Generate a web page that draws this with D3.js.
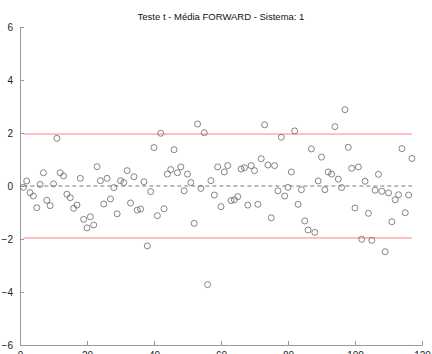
<!DOCTYPE html>
<html>
<head>
<meta charset="utf-8">
<script src="https://cdn.jsdelivr.net/npm/d3@7"></script>
<style>
  body { margin: 0; background: #fff; }
  svg { font-family: "Liberation Sans", Arial, sans-serif; }
</style>
</head>
<body>
<svg id="chart" width="432" height="354"></svg>
<script>
// t statistic for each sample, index 1..117
const tValues = [
  -0.05, 0.19, -0.25, -0.38, -0.82, 0.06, 0.50, -0.54, -0.74, 0.08,
  1.80, 0.50, 0.38, -0.31, -0.44, -0.84, -0.72, 0.29, -1.26, -1.58,
  -1.16, -1.47, 0.73, 0.20, -0.68, 0.29, -0.49, -0.06, -1.05, 0.20,
  0.13, 0.58, -0.64, 0.35, -0.91, -0.87, 0.16, -2.26, -0.21, 1.45,
  -1.12, 1.99, -0.86, 0.45, 0.62, 1.37, 0.50, 0.72, -0.18, 0.45,
  0.13, -1.41, 2.34, -0.09, 2.01, -3.72, 0.20, -0.34, 0.72, -0.78,
  0.53, 0.77, -0.55, -0.52, -0.40, 0.64, 0.69, -0.72, 0.77, 0.58,
  -0.69, 1.03, 2.31, 0.79, -1.20, 0.77, -0.18, 1.84, -0.38, -0.05,
  0.53, 2.08, -0.69, -0.14, -1.32, -1.66, 1.40, -1.75, 0.19, 1.09,
  -0.14, 0.53, 0.45, 2.24, 0.26, -0.06, 2.88, 1.46, 0.67, -0.83,
  0.72, -2.01, 0.18, -1.03, -2.05, -0.16, 0.44, -0.20, -2.48, -0.26,
  -1.35, -0.52, -0.33, 1.41, -1.01, -0.34, 1.04
];
const criticalValue = 1.96;
const xTicks = [0, 20, 40, 60, 80, 100, 120];
const yTicks = [-6, -4, -2, 0, 2, 4, 6];
const title = "Teste t - Média FORWARD - Sistema: 1";

const svg = d3.select("#chart");
const plotLeft = 20, plotRight = 422, plotTop = 27, plotBottom = 345;

const xScale = d3.scaleLinear().domain([0, 120]).range([plotLeft, plotRight]);
const yScale = d3.scaleLinear().domain([-6, 6]).range([plotBottom, plotTop]);

const points = tValues.map((v, i) => [i + 1, v]);
const xFirst = 1, xLast = tValues.length;

// title
svg.append("text")
  .attr("x", (plotLeft + plotRight) / 2)
  .attr("y", 20)
  .attr("text-anchor", "middle")
  .attr("font-size", 9.5)
  .attr("fill", "#111")
  .text(title);

// axes (MATLAB style: ticks inward)
svg.append("g")
  .attr("transform", `translate(0,${plotBottom})`)
  .call(d3.axisBottom(xScale).tickValues(xTicks).tickSizeInner(-4).tickSizeOuter(0).tickPadding(7))
  .call((g) => g.select(".domain").attr("stroke", "#999"))
  .call((g) => g.selectAll(".tick line").attr("stroke", "#999"))
  .call((g) => g.selectAll(".tick text").attr("font-size", 10).attr("fill", "#222").attr("font-family", "Liberation Sans, Arial"));

svg.append("g")
  .attr("transform", `translate(${plotLeft},0)`)
  .call(d3.axisLeft(yScale).tickValues(yTicks).tickSizeInner(-4).tickSizeOuter(0).tickPadding(7))
  .call((g) => g.select(".domain").attr("stroke", "#999"))
  .call((g) => g.selectAll(".tick line").attr("stroke", "#999"))
  .call((g) => g.selectAll(".tick text").attr("font-size", 10).attr("fill", "#222").attr("font-family", "Liberation Sans, Arial"));

// critical lines
[criticalValue, -criticalValue].forEach((c) => {
  svg.append("line")
    .attr("x1", xScale(xFirst)).attr("x2", xScale(xLast))
    .attr("y1", yScale(c)).attr("y2", yScale(c))
    .attr("stroke", "#ff8080")
    .attr("stroke-width", 1);
});

// zero line
svg.append("line")
  .attr("x1", xScale(xFirst)).attr("x2", xScale(xLast))
  .attr("y1", yScale(0)).attr("y2", yScale(0))
  .attr("stroke", "#555")
  .attr("stroke-dasharray", "4,3")
  .attr("stroke-width", 0.8);

// points
svg.append("g")
  .selectAll("circle")
  .data(points)
  .join("circle")
  .attr("cx", (d) => xScale(d[0]))
  .attr("cy", (d) => yScale(d[1]))
  .attr("r", 3)
  .attr("fill", "none")
  .attr("stroke", "#666")
  .attr("stroke-width", 0.8);
</script>
</body>
</html>
